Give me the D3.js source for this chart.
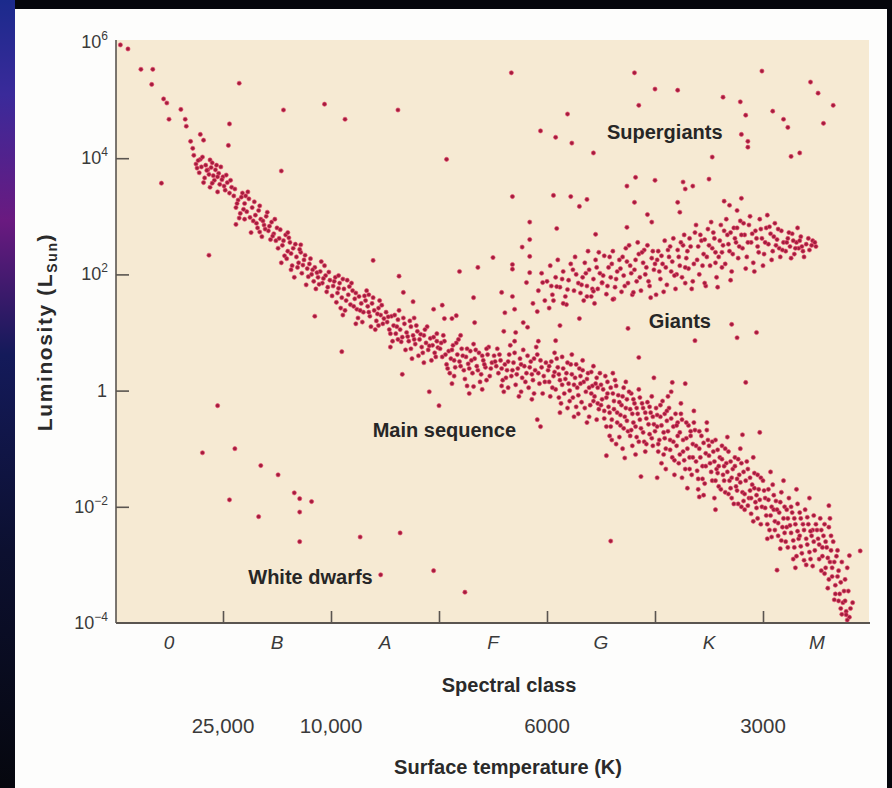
<!DOCTYPE html>
<html>
<head>
<meta charset="utf-8">
<script src="https://cdn.jsdelivr.net/npm/d3@7/dist/d3.min.js"></script>
<style>
  html, body { margin: 0; padding: 0; background: #05060c; }
  svg { display: block; }
  text { font-family: "Liberation Sans", Arial, Helvetica, sans-serif; }
</style>
</head>
<body>
<div class="chart"></div>
<script>
/*
----------------------------------------------------------
                   the stars
   each star: [spectral position (O=0..1, B=1..2 ...), log10 of luminosity in L_Sun]
----------------------------------------------------------
*/
var spectralClasses = ["0", "B", "A", "F", "G", "K", "M"];
var classBounds = [1, 2, 3, 4, 5, 6];
var tempPositions = [1, 2, 4, 6];
var tempLabels = ["25,000", "10,000", "6000", "3000"];
var lumExponents = [6, 4, 2, 0, -2, -4];

var mainSequence = [
  [0.05,5.95],[0.12,5.88],[0.24,5.53],[0.35,5.53],[0.34,5.27],[0.45,5.02],[0.48,4.95],[0.61,4.84],[0.50,4.67],[0.65,4.67],[0.66,4.55],[0.79,4.41],[0.70,4.29],[0.82,4.31],[0.72,4.17],[0.79,3.98],[0.88,3.97],
  [0.75,3.90],[0.80,3.85],[0.84,3.88],[0.90,3.92],[0.93,3.80],[0.78,3.75],[0.87,3.72],[0.96,3.74],[0.83,3.66],[0.92,3.62],[1.00,3.68],[0.97,3.55],[0.88,3.50],[1.04,3.58],[1.02,3.45],[0.95,3.42],[1.08,3.50],[0.86,3.80],[0.98,3.85],[1.06,3.40],
  [0.73,4.05],[0.77,3.96],[0.81,4.02],[0.85,3.79],[0.89,3.84],[0.91,3.70],[0.94,3.88],[0.99,3.63],[1.03,3.71],[0.76,3.83],[0.82,3.58],[1.01,3.52],[1.07,3.62],[0.90,3.57],[0.95,3.68],
  [1.10,3.35],[1.14,3.28],[1.18,3.40],[1.12,3.15],[1.20,3.22],[1.24,3.30],[1.22,3.08],[1.27,3.15],[1.30,3.02],[1.16,3.05],[1.28,2.92],[1.33,3.10],[1.35,2.95],[1.38,2.85],[1.32,2.80],[1.40,3.00],[1.42,2.75],[1.45,2.90],[1.47,2.70],[1.36,2.65],[1.44,2.60],[1.50,2.80],[1.20,2.95],[1.26,2.72],[1.48,2.95],
  [1.11,3.47],[1.13,3.22],[1.17,3.33],[1.19,3.12],[1.23,3.42],[1.25,2.98],[1.29,3.25],[1.31,2.88],[1.34,3.18],[1.37,2.92],[1.39,2.78],[1.41,3.07],[1.43,2.83],[1.46,2.66],[1.49,2.58],[1.15,2.97],[1.21,3.35],[1.34,2.73],
  [1.52,2.62],[1.55,2.50],[1.58,2.68],[1.60,2.40],[1.62,2.55],[1.57,2.32],[1.65,2.45],[1.68,2.30],[1.70,2.20],[1.64,2.15],[1.72,2.38],[1.75,2.25],[1.78,2.10],[1.73,2.02],[1.80,2.18],[1.82,2.00],[1.85,2.12],[1.88,1.95],[1.84,1.88],[1.90,2.05],[1.92,1.85],[1.95,1.98],[1.97,1.78],[1.66,1.95],[1.77,1.82],[1.54,2.20],[1.94,2.15],[1.60,2.72],[1.86,1.75],[1.99,1.90],
  [1.51,2.45],[1.53,2.77],[1.56,2.58],[1.59,2.27],[1.61,2.63],[1.63,2.36],[1.67,2.52],[1.69,2.12],[1.71,2.43],[1.74,2.16],[1.76,2.33],[1.79,1.96],[1.81,2.27],[1.83,2.08],[1.87,2.03],[1.89,1.83],[1.91,2.22],[1.93,1.93],[1.96,1.70],[1.98,2.04],[1.63,2.08],[1.72,2.51],
  [2.02,1.80],[2.04,1.95],[2.06,1.68],[2.08,1.85],[2.10,1.60],[2.12,1.75],[2.05,1.52],[2.15,1.90],[2.16,1.65],[2.18,1.48],[2.20,1.72],[2.22,1.58],[2.24,1.40],[2.26,1.62],[2.28,1.50],[2.30,1.35],[2.32,1.55],[2.34,1.45],[2.36,1.28],[2.38,1.50],[2.40,1.38],[2.42,1.20],[2.44,1.42],[2.46,1.30],[2.48,1.15],[2.13,1.38],[2.25,1.25],[2.37,1.10],[2.19,1.85],[2.33,1.72],[2.45,1.55],[2.09,1.42],[2.29,1.18],[2.41,1.05],
  [2.01,1.63],[2.03,1.88],[2.07,1.76],[2.11,1.92],[2.14,1.55],[2.17,1.79],[2.21,1.45],[2.23,1.68],[2.27,1.38],[2.31,1.63],[2.35,1.35],[2.39,1.60],[2.43,1.32],[2.47,1.47],[2.49,1.24],[2.11,1.30],[2.23,1.15],[2.35,1.65],[2.44,1.12],[2.07,1.98],
  [2.51,1.35],[2.52,1.18],[2.54,1.05],[2.56,1.28],[2.58,1.12],[2.60,0.98],[2.62,1.22],[2.64,1.05],[2.66,0.92],[2.68,1.15],[2.70,1.00],[2.72,0.85],[2.74,1.10],[2.76,0.95],[2.78,0.80],[2.80,1.02],[2.82,0.88],[2.84,0.75],[2.86,0.95],[2.88,0.82],[2.90,0.70],[2.92,0.90],[2.94,0.78],[2.96,0.65],[2.98,0.85],[2.57,0.85],[2.69,0.70],[2.81,0.60],[2.93,0.52],[2.63,1.38],[2.77,1.25],[2.89,1.10],[2.55,0.75],[2.75,0.55],
  [2.53,1.27],[2.55,0.98],[2.59,1.30],[2.61,1.10],[2.65,0.84],[2.67,1.25],[2.71,0.93],[2.73,1.20],[2.77,0.88],[2.79,1.12],[2.83,0.97],[2.85,0.65],[2.87,1.05],[2.91,0.77],[2.95,0.92],[2.97,0.58],[2.99,0.74],[2.62,0.88],[2.74,0.72],[2.86,0.48],[2.98,0.98],
  [3.01,0.72],[3.03,0.58],[3.05,0.85],[3.07,0.45],[3.09,0.68],[3.11,0.55],[3.13,0.78],[3.15,0.40],[3.17,0.62],[3.19,0.50],[3.21,0.72],[3.23,0.35],[3.25,0.58],[3.27,0.46],[3.29,0.68],[3.31,0.30],[3.33,0.55],[3.35,0.42],[3.37,0.65],[3.39,0.28],[3.41,0.52],[3.43,0.40],[3.45,0.62],[3.47,0.25],[3.49,0.48],[3.04,0.95],[3.18,0.88],[3.32,0.80],[3.46,0.75],[3.10,0.30],[3.24,0.20],[3.38,0.15],[3.12,0.12],[3.28,-0.05],
  [3.02,0.82],[3.06,0.62],[3.08,0.38],[3.12,0.70],[3.14,0.52],[3.16,0.82],[3.20,0.42],[3.22,0.60],[3.26,0.72],[3.28,0.38],[3.30,0.52],[3.34,0.70],[3.36,0.35],[3.40,0.60],[3.42,0.45],[3.44,0.72],[3.48,0.38],[3.14,0.25],[3.26,0.08],[3.40,0.02],[3.20,0.95],[3.44,0.18],
  [3.51,0.60],[3.53,0.42],[3.55,0.30],[3.57,0.52],[3.59,0.18],[3.61,0.45],[3.63,0.35],[3.65,0.62],[3.67,0.25],[3.69,0.48],[3.71,0.10],[3.73,0.38],[3.75,0.55],[3.77,0.22],[3.79,0.42],[3.81,0.30],[3.83,0.05],[3.85,0.50],[3.87,0.18],[3.89,0.35],[3.91,0.62],[3.93,0.12],[3.95,0.40],[3.97,0.25],[3.99,0.48],[3.54,0.72],[3.66,0.78],[3.78,0.70],[3.90,0.75],[3.60,-0.02],[3.74,-0.10],[3.86,-0.15],[3.96,-0.05],[3.58,0.08],[3.82,0.60],
  [3.52,0.50],[3.56,0.62],[3.58,0.38],[3.62,0.22],[3.64,0.50],[3.68,0.35],[3.70,0.65],[3.72,0.28],[3.76,0.45],[3.80,0.15],[3.84,0.40],[3.86,0.28],[3.88,0.55],[3.92,0.30],[3.94,0.52],[3.98,0.15],[3.64,0.05],[3.76,-0.02],[3.88,-0.05],[3.70,0.85],[3.92,0.85],
  [4.01,0.35],[4.02,0.15],[4.04,0.50],[4.06,0.25],[4.08,0.02],[4.10,0.40],[4.12,0.18],[4.14,0.58],[4.16,-0.05],[4.18,0.30],[4.20,0.12],[4.22,0.45],[4.24,-0.12],[4.26,0.22],[4.28,0.05],[4.30,0.38],[4.32,-0.20],[4.34,0.15],[4.36,-0.02],[4.38,0.30],[4.40,-0.25],[4.42,0.08],[4.44,-0.10],[4.46,0.22],[4.48,-0.32],[4.03,-0.10],[4.13,-0.22],[4.23,0.62],[4.33,0.52],[4.43,0.42],[4.07,0.65],[4.19,-0.30],[4.29,-0.40],[4.39,-0.45],[4.11,0.28],[4.21,0.00],[4.31,0.25],[4.41,-0.05],[4.47,0.05],[4.27,-0.28],
  [4.02,0.42],[4.05,0.05],[4.07,0.32],[4.09,0.55],[4.11,-0.12],[4.14,0.10],[4.15,0.38],[4.17,0.20],[4.19,0.48],[4.21,-0.18],[4.23,0.28],[4.25,0.10],[4.27,0.45],[4.29,-0.08],[4.31,0.12],[4.33,0.35],[4.35,-0.30],[4.37,0.20],[4.39,0.05],[4.41,0.32],[4.43,-0.18],[4.45,0.12],[4.47,-0.22],[4.49,0.30],[4.12,-0.38],[4.25,-0.45],[4.37,-0.55],[4.46,-0.50],
  [4.50,0.10],[4.51,-0.15],[4.53,-0.35],[4.54,0.25],[4.56,-0.05],[4.57,-0.28],[4.59,0.05],[4.60,-0.50],[4.62,-0.18],[4.63,0.18],[4.65,-0.38],[4.66,-0.08],[4.68,-0.60],[4.69,-0.25],[4.71,0.05],[4.72,-0.45],[4.74,-0.15],[4.75,-0.70],[4.77,-0.32],[4.78,-0.05],[4.80,-0.55],[4.81,-0.22],[4.83,-0.80],[4.84,-0.40],[4.86,-0.12],[4.87,-0.65],[4.89,-0.30],[4.90,-0.88],[4.92,-0.48],[4.93,-0.20],[4.95,-0.75],[4.96,-0.38],[4.98,-0.95],[4.99,-0.58],[4.55,-0.62],[4.61,0.30],[4.67,-0.80],[4.73,0.15],[4.79,-0.95],[4.85,0.02],[4.91,-1.05],[4.97,-0.10],[4.58,-0.78],[4.70,-1.00],[4.82,-1.10],[4.64,-0.92],
  [4.50,-0.25],[4.52,0.02],[4.53,-0.48],[4.55,-0.12],[4.56,0.15],[4.58,-0.38],[4.59,-0.62],[4.61,-0.05],[4.62,-0.32],[4.64,0.08],[4.65,-0.55],[4.67,-0.20],[4.68,-0.42],[4.70,-0.10],[4.71,-0.65],[4.73,-0.30],[4.74,-0.52],[4.76,-0.02],[4.77,-0.78],[4.79,-0.40],[4.80,-0.15],[4.82,-0.62],[4.83,-0.30],[4.85,-0.88],[4.86,-0.50],[4.88,-0.22],[4.89,-0.72],[4.91,-0.38],[4.92,-0.92],[4.94,-0.58],[4.95,-0.28],[4.97,-0.82],[4.98,-0.45],[4.60,-0.85],[4.78,-0.68],
  [5.01,-0.30],[5.02,-0.62],[5.04,-0.85],[5.05,-0.45],[5.07,-0.18],[5.08,-0.72],[5.10,-1.00],[5.11,-0.52],[5.13,-0.30],[5.14,-0.85],[5.16,-1.15],[5.17,-0.62],[5.19,-0.40],[5.20,-0.95],[5.22,-1.25],[5.23,-0.72],[5.25,-0.50],[5.26,-1.05],[5.28,-1.35],[5.29,-0.82],[5.31,-0.60],[5.32,-1.15],[5.34,-1.45],[5.35,-0.92],[5.37,-0.68],[5.38,-1.22],[5.40,-1.52],[5.41,-1.00],[5.43,-0.78],[5.44,-1.30],[5.46,-1.60],[5.47,-1.08],[5.49,-0.85],[5.06,-1.25],[5.18,-1.45],[5.30,-1.68],[5.12,-0.10],[5.24,-0.22],[5.36,-0.35],[5.48,-0.55],[5.09,-0.40],[5.21,-0.55],[5.33,-0.70],[5.45,-1.80],[5.03,-1.05],[5.15,-0.02],
  [5.00,-0.70],[5.02,-0.42],[5.03,-0.92],[5.05,-0.25],[5.06,-0.60],[5.08,-1.10],[5.09,-0.82],[5.11,-0.35],[5.12,-0.70],[5.14,-1.02],[5.15,-0.48],[5.17,-0.88],[5.18,-1.20],[5.20,-0.60],[5.21,-0.78],[5.23,-1.10],[5.24,-0.40],[5.26,-0.85],[5.27,-1.20],[5.29,-0.55],[5.30,-1.00],[5.32,-1.35],[5.33,-0.78],[5.35,-1.15],[5.36,-0.55],[5.38,-0.95],[5.39,-1.38],[5.41,-0.70],[5.42,-1.15],[5.44,-1.52],[5.45,-0.90],[5.47,-1.30],[5.48,-0.68],[5.10,-1.35],[5.25,-1.50],[5.40,-1.70],
  [5.50,-0.95],[5.51,-1.25],[5.53,-1.55],[5.54,-1.05],[5.56,-0.85],[5.57,-1.35],[5.59,-1.65],[5.60,-1.15],[5.62,-0.95],[5.63,-1.45],[5.65,-1.75],[5.66,-1.25],[5.68,-1.05],[5.69,-1.55],[5.71,-1.85],[5.72,-1.35],[5.74,-1.15],[5.75,-1.65],[5.77,-1.95],[5.78,-1.45],[5.80,-1.25],[5.81,-1.75],[5.83,-2.05],[5.84,-1.55],[5.86,-1.35],[5.87,-1.85],[5.89,-2.12],[5.90,-1.62],[5.92,-1.42],[5.93,-1.92],[5.95,-2.20],[5.96,-1.70],[5.98,-1.50],[5.99,-2.00],[5.55,-1.85],[5.67,-0.80],[5.79,-1.00],[5.91,-1.15],[5.58,-1.42],[5.70,-1.68],[5.82,-1.90],[5.94,-1.80],[5.64,-1.30],[5.76,-1.52],[5.88,-1.72],
  [5.50,-1.12],[5.52,-1.40],[5.53,-0.88],[5.55,-1.22],[5.56,-1.55],[5.58,-1.02],[5.59,-1.30],[5.61,-1.70],[5.62,-1.18],[5.64,-1.55],[5.65,-1.00],[5.67,-1.40],[5.68,-1.78],[5.70,-1.22],[5.71,-1.50],[5.73,-1.95],[5.74,-1.30],[5.76,-1.72],[5.77,-1.18],[5.79,-1.58],[5.80,-2.00],[5.82,-1.40],[5.83,-1.78],[5.85,-1.22],[5.86,-1.98],[5.88,-1.50],[5.89,-1.85],[5.91,-2.25],[5.92,-1.68],[5.94,-2.02],[5.95,-1.45],[5.97,-1.88],[5.98,-2.30],
  [6.00,-1.55],[6.02,-1.85],[6.03,-2.15],[6.05,-1.70],[6.06,-2.40],[6.08,-2.00],[6.09,-1.62],[6.11,-2.25],[6.12,-1.90],[6.14,-2.50],[6.15,-2.10],[6.17,-1.75],[6.18,-2.35],[6.20,-2.00],[6.21,-2.60],[6.23,-2.20],[6.24,-1.85],[6.26,-2.45],[6.27,-2.10],[6.29,-2.70],[6.30,-2.30],[6.32,-1.95],[6.33,-2.55],[6.35,-2.20],[6.36,-2.80],[6.38,-2.40],[6.39,-2.05],[6.41,-2.65],[6.42,-2.30],[6.44,-2.90],[6.45,-2.50],[6.47,-2.15],[6.48,-2.75],[6.04,-2.55],[6.16,-2.72],[6.28,-2.90],[6.40,-3.00],[6.07,-1.40],[6.19,-1.55],[6.31,-1.70],[6.43,-1.85],[6.10,-2.05],[6.22,-2.35],[6.34,-2.50],[6.46,-2.40],
  [6.01,-1.72],[6.02,-2.02],[6.04,-2.30],[6.05,-1.88],[6.07,-2.15],[6.08,-2.52],[6.10,-1.80],[6.11,-2.40],[6.13,-2.05],[6.14,-2.28],[6.16,-1.92],[6.17,-2.58],[6.19,-2.20],[6.20,-2.45],[6.22,-2.05],[6.23,-2.70],[6.25,-2.32],[6.26,-2.00],[6.28,-2.58],[6.29,-2.20],[6.31,-2.85],[6.32,-2.42],[6.34,-2.10],[6.35,-2.68],[6.37,-2.30],[6.38,-2.92],[6.40,-2.55],[6.41,-2.18],[6.43,-2.78],[6.44,-2.42],[6.46,-3.02],[6.47,-2.60],[6.49,-2.30],
  [6.50,-2.40],[6.52,-2.65],[6.53,-2.20],[6.55,-2.85],[6.56,-2.50],[6.58,-3.05],[6.59,-2.70],[6.61,-2.35],[6.62,-2.95],[6.64,-3.20],[6.65,-2.60],[6.67,-3.35],[6.68,-2.85],[6.70,-3.10],[6.71,-3.50],[6.73,-2.95],[6.74,-3.65],[6.76,-3.25],[6.77,-3.80],[6.79,-3.45],[6.80,-3.90],[6.54,-3.10],[6.60,-3.40],[6.66,-3.60],[6.72,-3.75],[6.57,-2.30],[6.63,-2.50],[6.69,-2.75],[6.78,-3.05],[6.83,-3.65],
  [6.51,-2.55],[6.52,-2.90],[6.54,-2.40],[6.55,-2.70],[6.57,-3.15],[6.58,-2.60],[6.60,-2.88],[6.61,-3.25],[6.63,-2.75],[6.64,-3.05],[6.66,-2.95],[6.67,-3.50],[6.69,-3.20],[6.70,-3.62],[6.72,-3.30],[6.73,-3.85],[6.75,-3.45],[6.76,-3.62],[6.78,-3.95],[6.81,-3.75],[6.62,-2.20]
];

var giants = [
  [3.92,1.72],[3.95,2.02],[3.98,1.55],[4.00,1.88],[4.03,2.15],[4.05,1.65],[4.08,1.95],[4.10,2.25],[4.12,1.78],[4.15,2.05],[4.17,1.62],[4.20,1.90],[4.22,2.18],[4.25,1.72],[4.27,2.00],[4.29,1.85],[4.02,1.42],[4.18,1.48],[4.26,2.30],
  [4.31,1.68],[4.33,1.95],[4.35,2.20],[4.37,1.80],[4.39,2.08],[4.41,1.62],[4.43,1.92],[4.45,2.25],[4.47,1.75],[4.49,2.02],[4.51,1.85],[4.53,2.32],[4.55,1.66],[4.57,2.12],[4.59,1.95],[4.61,2.40],[4.63,1.78],[4.65,2.05],[4.67,2.25],[4.69,1.70],[4.71,1.98],[4.73,2.45],[4.75,1.85],[4.77,2.15],[4.79,1.65],[4.34,1.55],[4.48,2.38],[4.62,1.58],[4.76,2.50],[4.44,1.50],[4.58,2.30],[4.70,2.30],[4.38,2.40],
  [4.81,2.08],[4.83,1.88],[4.85,2.35],[4.87,1.72],[4.89,2.20],[4.91,2.00],[4.93,2.50],[4.95,1.80],[4.97,2.28],[4.99,2.08],[5.01,1.65],[5.03,2.40],[5.05,1.92],[5.07,2.18],[5.09,2.58],[5.11,1.82],[5.13,2.30],[5.15,2.05],[5.17,2.62],[5.19,1.75],[5.21,2.42],[5.23,2.15],[5.25,1.95],[5.27,2.68],[5.29,2.28],[4.84,2.55],[4.96,1.60],[5.08,1.70],[5.20,2.00],[5.28,1.85],[4.90,2.42],[5.02,2.25],[5.14,2.48],[5.26,2.50],
  [5.31,2.10],[5.33,2.48],[5.35,1.88],[5.37,2.72],[5.39,2.25],[5.41,2.00],[5.43,2.58],[5.45,2.35],[5.47,1.80],[5.49,2.78],[5.51,2.15],[5.53,2.45],[5.55,2.62],[5.57,1.95],[5.59,2.30],[5.61,2.85],[5.63,2.50],[5.65,2.18],[5.67,2.68],[5.69,2.40],[5.71,2.05],[5.73,2.80],[5.75,2.55],[5.77,2.28],[5.79,2.92],[5.34,1.75],[5.46,1.85],[5.58,1.78],[5.70,1.90],[5.38,2.85],[5.52,2.90],[5.66,2.95],[5.42,2.68],[5.56,2.20],[5.62,2.38],[5.74,2.62],
  [5.81,2.45],[5.83,2.68],[5.85,2.30],[5.87,2.85],[5.89,2.55],[5.91,2.20],[5.93,2.75],[5.95,2.48],[5.97,2.95],[5.99,2.62],[6.01,2.35],[6.03,2.80],[6.05,2.52],[6.07,2.70],[6.09,2.40],[6.11,2.88],[6.13,2.60],[6.15,2.45],[6.17,2.75],[6.19,2.55],[5.84,2.10],[5.92,2.05],[6.00,2.15],[6.08,2.25],[6.16,2.30],[5.88,3.00],[6.04,3.02],[5.96,2.38],[6.12,2.50],
  [6.21,2.40],[6.23,2.62],[6.25,2.48],[6.27,2.70],[6.29,2.35],[6.31,2.55],[6.33,2.45],[6.35,2.65],[6.37,2.40],[6.40,2.52],[6.43,2.42],[6.46,2.58],[6.49,2.48],[6.26,2.28],[6.32,2.80],[6.38,2.30],
  [4.04,1.80],[4.14,1.92],[4.24,2.08],[4.32,1.82],[4.36,2.02],[4.42,1.75],[4.46,2.12],[4.52,1.98],[4.56,1.80],[4.60,2.18],[4.64,1.92],[4.68,2.10],[4.72,1.80],[4.74,2.22],[4.78,2.02],[4.82,2.25],[4.86,1.95],[4.88,2.38],[4.92,2.12],[4.94,1.88],[4.98,2.40],[5.00,2.18],[5.04,2.05],[5.06,2.32],[5.10,2.12],[5.12,2.42],[5.16,2.22],[5.18,1.98],[5.22,2.30],[5.24,2.55],[5.28,2.12],[5.30,2.40],[5.32,2.62],[5.36,2.18],[5.40,2.48],[5.44,2.15],[5.46,2.60],[5.48,2.30],[5.50,2.50],[5.54,2.72],[5.56,2.38],[5.60,2.58],[5.62,2.12],[5.64,2.75],[5.68,2.52],[5.70,2.72],[5.72,2.35],[5.76,2.80],[5.78,2.48],[5.80,2.68],[5.82,2.88],[5.86,2.55],[5.90,2.70],[5.94,2.62],[5.98,2.78],[6.02,2.55],[6.06,2.82],[6.10,2.65],[6.14,2.78],[6.18,2.42],[6.22,2.55],[6.24,2.72],[6.28,2.58],[6.30,2.45],[6.34,2.58],[6.36,2.48],[6.42,2.62],[6.45,2.50],[6.48,2.55],
  // subgiants between the main sequence and the giant branch
  [3.32,1.60],[3.61,1.34],[3.58,1.69],[3.91,1.36],[3.87,1.50],[4.06,1.55],[4.15,1.50],[4.30,1.24],[4.12,1.12],[3.78,1.17],[3.82,1.09],[3.71,1.00],[3.60,1.02],[4.08,0.86],[3.33,1.17],[3.03,1.47],[3.05,1.24],[3.12,1.24],[2.95,1.40],[2.76,1.53],[2.67,1.69],[3.16,1.29],[3.96,1.86],[4.09,1.79],[4.19,1.74],[4.37,1.62],[4.43,1.71],[4.61,1.57],[4.80,1.69],[4.51,1.86],
  [3.36,2.12],[3.50,2.29],[3.68,2.17],[3.77,2.47],[3.19,2.05],[3.81,1.86],[3.84,2.31],[3.84,2.03],[3.68,2.09],[3.68,1.62],[3.70,1.40]
];

var supergiants = [
  [1.15,5.29],[1.56,4.83],[1.94,4.93],[2.13,4.67],[2.62,4.83],[1.06,4.59],[1.05,4.22],[1.54,3.78],[3.07,3.98],
  [3.67,5.47],[3.94,4.47],[4.08,4.36],[4.19,4.76],[4.23,4.26],[4.43,4.09],[4.81,5.47],[4.85,4.91],[5.00,5.19],[5.21,5.17],[5.99,5.50],
  [5.63,5.05],[5.79,4.97],[5.84,4.74],[5.80,4.41],[5.86,4.29],[5.86,4.19],[6.09,4.81],[6.19,4.67],[6.23,4.53],[6.44,5.31],[6.51,5.12],
  [6.65,4.91],[6.56,4.60],[5.53,4.02],[6.26,4.03],[6.34,4.09],[4.82,3.67],[5.00,3.62],[4.74,3.52],[5.26,3.59],[5.28,3.47],[5.35,3.52],
  [5.50,3.64],[3.68,3.34],[4.06,3.36],[4.22,3.34],[4.37,3.29],[4.30,3.17],[4.81,3.24],[5.21,3.24],[5.23,3.07],[4.93,3.03],[4.97,2.90],
  [5.64,3.26],[5.69,3.19],[5.76,3.10],[5.80,3.31],[3.84,2.90],[4.09,2.79],[4.45,2.69],[4.74,2.81],[3.84,2.60]
];

var whiteDwarfs = [
  [0.81,-1.07],[1.11,-1.00],[1.35,-1.29],[1.51,-1.45],[1.06,-1.88],[1.66,-1.76],[1.71,-1.86],[1.82,-1.91],
  [1.33,-2.17],[1.71,-2.09],[1.71,-2.60],[2.27,-2.52],[2.64,-2.45],[2.46,-3.17],[2.95,-3.10],[3.24,-3.47]
];

var otherStars = [
  [6.77,-3.86],[6.90,-2.76],[6.80,-2.84],[6.61,-1.98],[6.13,-3.09],[6.30,-3.05],[5.41,-1.83],[5.56,-2.05],
  [4.87,-1.48],[5.02,-1.50],[4.55,-1.12],[4.72,-1.16],[4.59,-2.59],[5.84,0.14],[5.97,-0.72],[5.81,-0.76],
  [4.99,0.22],[5.16,0.14],[5.28,0.12],[4.85,0.57],[5.37,0.86],[5.76,0.91],[5.94,1.00],[5.71,1.14],[4.75,1.07],
  [3.91,-0.50],[3.94,-0.62],[3.32,0.07],[2.91,-0.02],[3.00,-0.26],[2.66,0.28],[2.10,0.67],[1.85,1.28],
  [2.63,1.97],[2.39,2.24],[1.12,2.86],[0.87,2.33],[0.43,3.57],[0.95,-0.26]
];

/*
----------------------------------------------------------
                   the chart
----------------------------------------------------------
*/
var width = 892, height = 788;
var plot = { left: 116, right: 869, top: 40, bottom: 623 };

var svg = d3.select(".chart").append("svg")
    .attr("width", width)
    .attr("height", height);

// dark frame with a bit of blue / purple glow on the left edge
var defs = svg.append("defs");
var glow = defs.append("linearGradient").attr("id", "glow")
    .attr("x1", 0).attr("y1", 0).attr("x2", 0).attr("y2", 1);
glow.append("stop").attr("offset", "0%").attr("stop-color", "#1b2a8c");
glow.append("stop").attr("offset", "12%").attr("stop-color", "#3a2a9a");
glow.append("stop").attr("offset", "28%").attr("stop-color", "#6a1a80");
glow.append("stop").attr("offset", "45%").attr("stop-color", "#141a5a");
glow.append("stop").attr("offset", "70%").attr("stop-color", "#0c1030");
glow.append("stop").attr("offset", "100%").attr("stop-color", "#06070e");

svg.append("rect").attr("width", width).attr("height", height).attr("fill", "#05060c");
svg.append("rect").attr("x", 0).attr("y", 0).attr("width", 15).attr("height", height).attr("fill", "url(#glow)");
svg.append("rect").attr("x", 15).attr("y", 9).attr("width", 872).attr("height", height - 9).attr("fill", "#fdfdfc");

var x = d3.scaleLinear().domain([0, 7]).range([115, 871]);
var y = d3.scaleLog().domain([1e-4, 1e6]).range([plot.bottom, 42]);

svg.append("rect")
    .attr("x", plot.left).attr("y", plot.top)
    .attr("width", plot.right - plot.left).attr("height", plot.bottom - plot.top)
    .attr("fill", "#f6ead3");

// stars
var stars = svg.append("g").attr("class", "stars");
function drawStars(data, cls) {
    stars.selectAll("circle." + cls).data(data).enter()
        .append("circle")
            .attr("class", cls)
            .attr("cx", function(d) { return x(d[0]); })
            .attr("cy", function(d) { return y(Math.pow(10, d[1])); })
            .attr("r", 2.1)
            .attr("fill", "#a21d3d")
            .attr("stroke", "#ea4a6e")
            .attr("stroke-opacity", 0.7)
            .attr("stroke-width", 0.9);
}
drawStars(mainSequence, "ms");
drawStars(giants, "giant");
drawStars(supergiants, "supergiant");
drawStars(whiteDwarfs, "wd");
drawStars(otherStars, "other");

// axes: inward ticks, labels drawn separately
var axisColor = "#5a5550";
var yAxis = svg.append("g")
    .attr("transform", "translate(" + plot.left + ",0)")
    .call(d3.axisLeft(y)
        .tickValues(lumExponents.filter(function(e) { return e > -4 && e < 6; })
            .map(function(e) { return Math.pow(10, e); }))
        .tickSize(-13).tickSizeOuter(0).tickFormat(""));
yAxis.select(".domain").attr("stroke", axisColor).attr("stroke-width", 1.6)
    .attr("d", "M0," + plot.top + "V" + plot.bottom);
yAxis.selectAll(".tick line").attr("stroke", axisColor).attr("stroke-width", 1.6);

var xAxis = svg.append("g")
    .attr("transform", "translate(0," + plot.bottom + ")")
    .call(d3.axisBottom(x).tickValues(classBounds).tickSize(-12).tickSizeOuter(0).tickFormat(""));
xAxis.select(".domain").attr("stroke", axisColor).attr("stroke-width", 1.8)
    .attr("d", "M" + plot.left + ",0H870");
xAxis.selectAll(".tick line").attr("stroke", axisColor).attr("stroke-width", 1.6);

// luminosity tick labels (10 with superscript)
var yLabels = svg.append("g").attr("fill", "#3a3a3a").attr("font-size", 18);
lumExponents.forEach(function(e) {
    var cy = y(Math.pow(10, e));
    if (e === 0) {
        yLabels.append("text").attr("x", 107).attr("y", cy + 6)
            .attr("text-anchor", "end").text("1");
        return;
    }
    var sup = e < 0 ? "\u2212" + (-e) : String(e);
    var t = yLabels.append("text").attr("x", 108).attr("y", cy + 6).attr("text-anchor", "end");
    t.append("tspan").text("10");
    t.append("tspan").attr("font-size", 12).attr("dy", -8).text(sup);
});

// spectral class letters
svg.append("g").selectAll("text").data(spectralClasses).enter()
    .append("text")
        .attr("x", function(d, i) { return x(i + 0.5); })
        .attr("y", 649)
        .attr("text-anchor", "middle")
        .attr("font-size", 19)
        .attr("font-style", "italic")
        .attr("fill", "#3a3a3a")
        .text(function(d) { return d; });

// temperatures under the class boundaries
svg.append("g").selectAll("text").data(tempLabels).enter()
    .append("text")
        .attr("x", function(d, i) { return x(tempPositions[i]); })
        .attr("y", 733)
        .attr("text-anchor", "middle")
        .attr("font-size", 20.5)
        .attr("fill", "#3a3a3a")
        .text(function(d) { return d; });

// axis titles
svg.append("text").attr("x", 509).attr("y", 692)
    .attr("text-anchor", "middle").attr("font-size", 20).attr("font-weight", "bold").attr("fill", "#2a2a2a")
    .text("Spectral class");
svg.append("text").attr("x", 508).attr("y", 774)
    .attr("text-anchor", "middle").attr("font-size", 20).attr("font-weight", "bold").attr("fill", "#2a2a2a")
    .text("Surface temperature (K)");

var yTitle = svg.append("text")
    .attr("transform", "translate(52,332) rotate(-90)")
    .attr("text-anchor", "middle").attr("font-size", 21).attr("letter-spacing", 1.6)
    .attr("font-weight", "bold").attr("fill", "#2a2a2a");
yTitle.append("tspan").text("Luminosity (L");
yTitle.append("tspan").attr("font-size", 14).attr("dy", 5).text("Sun");
yTitle.append("tspan").attr("dy", -5).text(")");

// region names
var regions = [
    { name: "Supergiants", pos: 5.09, exp: 4.45 },
    { name: "Giants", pos: 5.23, exp: 1.19 },
    { name: "Main sequence", pos: 3.05, exp: -0.67 },
    { name: "White dwarfs", pos: 1.81, exp: -3.2 }
];
svg.append("g").selectAll("text").data(regions).enter()
    .append("text")
        .attr("x", function(d) { return x(d.pos); })
        .attr("y", function(d) { return y(Math.pow(10, d.exp)) + 7; })
        .attr("text-anchor", "middle")
        .attr("font-size", 20)
        .attr("font-weight", "bold")
        .attr("fill", "#262626")
        .text(function(d) { return d.name; });
</script>
</body>
</html>
